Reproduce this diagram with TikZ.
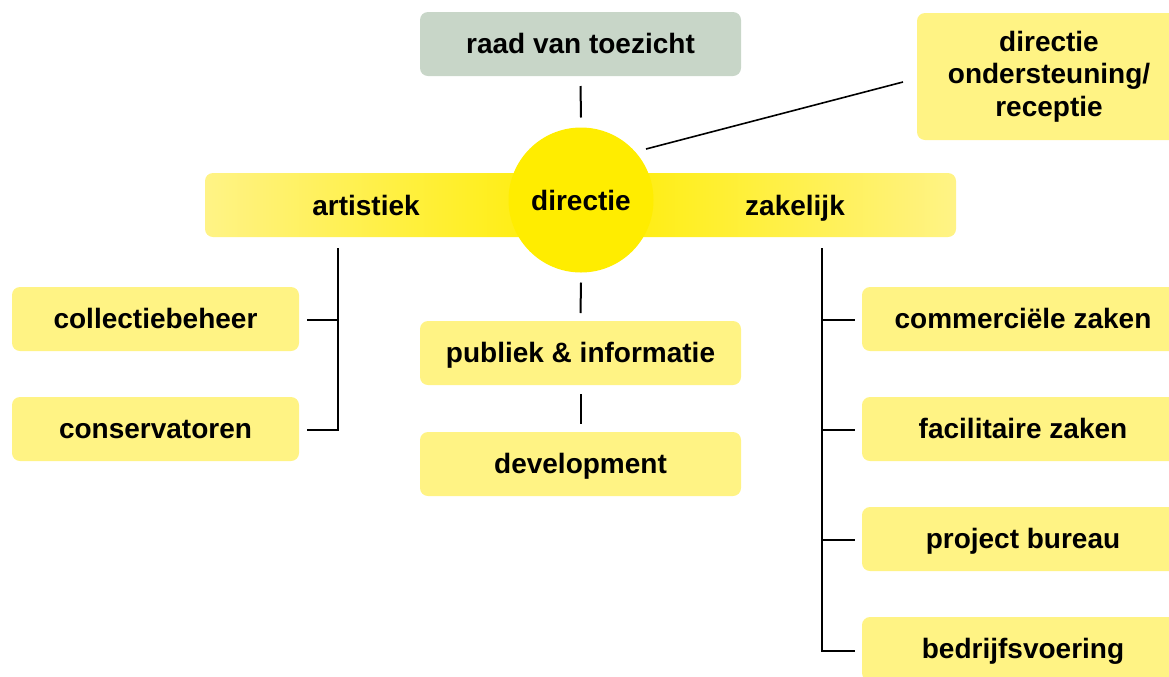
\documentclass[tikz,border=0pt]{standalone}
\usepackage{fontspec}
\setmainfont{Liberation Sans}
\usetikzlibrary{calc}
\definecolor{boxy}{HTML}{FFF384}
\definecolor{grn}{HTML}{C8D6C8}
\definecolor{yel}{HTML}{FFED00}
\definecolor{barlight}{HTML}{FFF386}
\newcommand\dfont{\fontsize{21}{24.4}\selectfont\bfseries}
\begin{document}
\begin{tikzpicture}[x=0.75pt,y=-0.75pt,
  every node/.style={inner sep=0pt, outer sep=0pt},
  conn/.style={line width=1.5pt, black},
  ybox/.style={rectangle, rounded corners=6pt, fill=boxy, minimum height=48pt,
               text height=16.5pt, text depth=2.5pt, font=\dfont},
  lbl/.style={font=\dfont, anchor=base}]
\useasboundingbox (0,0) rectangle (1169,676);
\clip (0,0) rectangle (1169,676);

% top
\node[ybox, fill=grn, minimum width=240.75pt] (raad) at (580.5,44) {raad van toezicht};
\node[rectangle, rounded corners=6pt, fill=boxy, font=\dfont, align=center,
      minimum width=198pt, minimum height=95.25pt] (dor) at (1049,76.5)
      {directie\\ondersteuning/\\receptie};

% bar and circle
\node[rectangle, rounded corners=6pt, minimum width=563.25pt, minimum height=48pt,
      left color=barlight, right color=barlight, middle color=yel] (bar) at (580.5,205) {};
\node[circle, fill=yel, minimum size=108.75pt] (dir) at (581,200) {};
\node[lbl] (dirt) at (581,210.5) {directie};
\node[lbl] (art) at (366,215) {artistiek};
\node[lbl] (zak) at (795,215) {zakelijk};

% left
\node[ybox, minimum width=215.25pt] (coll) at (155.5,319) {collectiebeheer};
\node[ybox, minimum width=215.25pt] (cons) at (155.5,429) {conservatoren};

% center
\node[ybox, minimum width=240.75pt] (pub) at (580.5,353) {publiek \& informatie};
\node[ybox, minimum width=240.75pt] (dev) at (580.5,464) {development};

% right
\node[ybox, minimum width=241.5pt] (com) at (1023,319) {commerciële zaken};
\node[ybox, minimum width=241.5pt] (fac) at (1023,429) {facilitaire zaken};
\node[ybox, minimum width=241.5pt] (pro) at (1023,539) {project bureau};
\node[ybox, minimum width=241.5pt] (bed) at (1023,649) {bedrijfsvoering};

% connectors
\draw[conn] ($(raad.south)+(0,10)$) -- ($(dir.north)+(0,-10)$);
\draw[conn] ($(dir.south)+(0,10)$) -- ($(pub.north)+(0,-8)$);
\draw[conn] ($(pub.south)+(0,9)$) -- ($(dev.north)+(0,-8)$);
\draw[line width=1.2pt] ($(dir.center)+(65,-51)$) -- ($(dor.west)+(-14,5.5)$);

\coordinate (aT) at (338,248);
\draw[conn] (aT) |- ($(cons.east)+(8,1)$);
\draw[conn] ($(coll.east)+(8,1)$) -- ($(coll.east -| aT)+(0,1)$);

\coordinate (zT) at (822,248);
\draw[conn] (zT) |- ($(bed.west)+(-7,2)$);
\foreach \n in {com,fac,pro}
  \draw[conn] ($(\n.west -| zT)+(0,1)$) -- ($(\n.west)+(-7,1)$);
\end{tikzpicture}
\end{document}
